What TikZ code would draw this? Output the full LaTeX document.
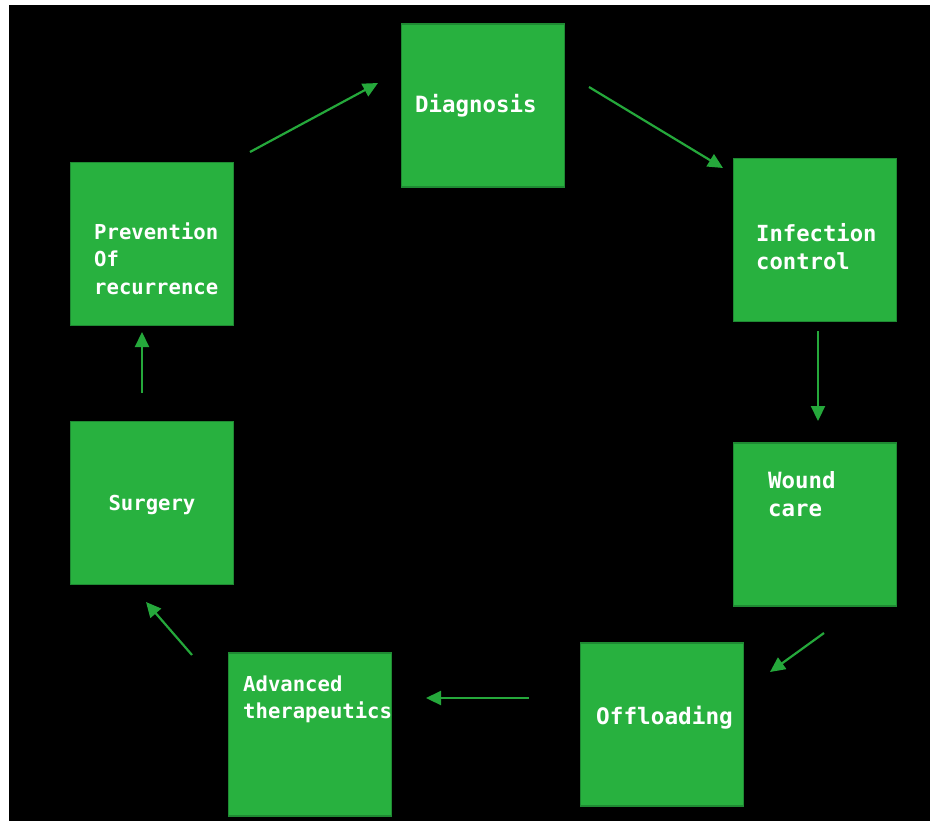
\documentclass[tikz,border=0pt]{standalone}
\usepackage{fontspec}
\newfontfamily\stepfont{DejaVu Sans Mono}[BoldFont={DejaVu Sans Mono Bold}]
\usetikzlibrary{arrows.meta}
\definecolor{boxgreen}{HTML}{28B13F}
\definecolor{boxedge}{HTML}{1F8A33}
\definecolor{arrowgreen}{HTML}{25A83B}
\tikzset{
  stepbox/.style={draw=boxedge, line width=1.5pt, fill=boxgreen,
    minimum width=163pt, minimum height=163pt, inner sep=0pt, outer sep=0pt},
  steptext/.style={text=white, inner sep=0pt, align=left,
    font={\stepfont\bfseries\fontsize{#1}{27.5}\selectfont}},
  flow/.style={draw=arrowgreen, line width=2.2pt,
    -{Triangle[length=15pt,width=14pt]}}
}
\begin{document}
\begin{tikzpicture}[x=1pt,y=-1pt]
  % canvas and dark panel
  \fill[white] (0,0) rectangle (930,823);
  \useasboundingbox (0,0) rectangle (930,823);
  \fill[black] (9,5) rectangle (930,821);

  % boxes of the cycle
  \node[stepbox] (diag) at (483,105.5) {};
  \node[stepbox] (infec) at (815,240) {};
  \node[stepbox] (wound) at (815,524.5) {};
  \node[stepbox] (offl) at (662,724.5) {};
  \node[stepbox] (adv) at (310,734.5) {};
  \node[stepbox] (surg) at (152,503) {};
  \node[stepbox] (prev) at (152,244) {};

  % labels
  \node[steptext=22.4, anchor=west] (tdiag) at (415,106) {Diagnosis};
  \node[steptext=22.2, anchor=west] (tinfec) at (756,246.5) {Infection\\control};
  \node[steptext=22.4, anchor=west] (twound) at (768,494) {Wound\\care};
  \node[steptext=22.7, anchor=west] (toffl) at (596,718) {Offloading};
  \node[steptext=20.6, anchor=west] (tadv) at (243,699.5) {Advanced\\therapeutics};
  \node[steptext=20.6] (tsurg) at (152,505) {Surgery};
  \node[steptext=20.6, anchor=west] (tprev) at (94,258.5) {Prevention\\Of\\recurrence};

  % arrow end points
  \coordinate (a1s) at (250,152);  \coordinate (a1e) at (378,83);
  \coordinate (a2s) at (589,87);   \coordinate (a2e) at (723,168);
  \coordinate (a3s) at (818,331);  \coordinate (a3e) at (818,421);
  \coordinate (a4s) at (824,633);  \coordinate (a4e) at (770,672);
  \coordinate (a5s) at (529,698);  \coordinate (a5e) at (426,698);
  \coordinate (a6s) at (192,655);  \coordinate (a6e) at (146,602);
  \coordinate (a7s) at (142,393);  \coordinate (a7e) at (142,332);

  % cycle arrows
  \draw[flow] (a1s) -- (a1e);
  \draw[flow] (a2s) -- (a2e);
  \draw[flow] (a3s) -- (a3e);
  \draw[flow] (a4s) -- (a4e);
  \draw[flow] (a5s) -- (a5e);
  \draw[flow] (a6s) -- (a6e);
  \draw[flow] (a7s) -- (a7e);
\end{tikzpicture}
\end{document}
